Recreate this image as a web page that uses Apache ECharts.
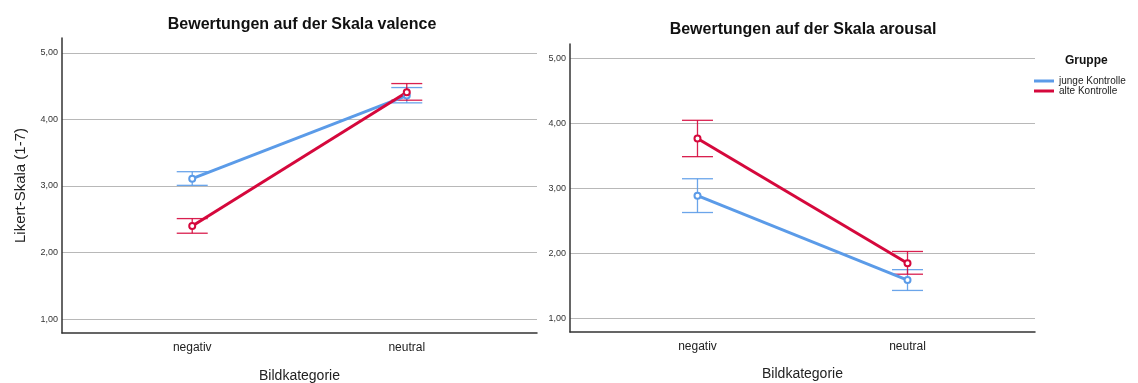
<!DOCTYPE html>
<html>
<head>
<meta charset="utf-8">
<script src="https://cdn.jsdelivr.net/npm/echarts@6/dist/echarts.min.js"></script>
<style>
  html, body { margin: 0; padding: 0; background: #fff; }
  #main { width: 1138px; height: 383px; }
</style>
</head>
<body>
<div id="main"></div>
<script>
// Werte
var categories = ['negativ', 'neutral'];
var groups = ['junge Kontrolle', 'alte Kontrolle'];
var yTicks = [1, 2, 3, 4, 5];

// Skala valence
var valenceJungeMean = [3.11, 4.36];
var valenceJungeLow = [3.01, 4.25];
var valenceJungeHigh = [3.215, 4.48];
var valenceAlteMean = [2.40, 4.41];
var valenceAlteLow = [2.29, 4.29];
var valenceAlteHigh = [2.51, 4.54];

// Skala arousal
var arousalJungeMean = [2.89, 1.59];
var arousalJungeLow = [2.63, 1.43];
var arousalJungeHigh = [3.15, 1.75];
var arousalAlteMean = [3.77, 1.85];
var arousalAlteLow = [3.49, 1.68];
var arousalAlteHigh = [4.05, 2.03];

var colors = ['#5b9be8', '#d5083c'];
var font = 'Liberation Sans, Arial, sans-serif';

var chart = echarts.init(document.getElementById('main'), null, { renderer: 'canvas' });

function meanData(arr) {
  return arr.map(function (v, i) { return [i, v]; });
}
function errData(low, high) {
  return low.map(function (v, i) { return [i, v, high[i]]; });
}

function renderErrorBar(params, api) {
  var x = api.value(0);
  var lo = api.coord([x, api.value(1)]);
  var hi = api.coord([x, api.value(2)]);
  var half = 15.5;
  var style = { stroke: api.visual('color'), lineWidth: 1.3, opacity: 0.9 };
  return {
    type: 'group',
    children: [
      { type: 'line', shape: { x1: lo[0], y1: lo[1], x2: hi[0], y2: hi[1] }, style: style },
      { type: 'line', shape: { x1: lo[0] - half, y1: lo[1], x2: lo[0] + half, y2: lo[1] }, style: style },
      { type: 'line', shape: { x1: hi[0] - half, y1: hi[1], x2: hi[0] + half, y2: hi[1] }, style: style }
    ]
  };
}

function xAxisFor(idx, nameGap) {
  return {
    type: 'value',
    gridIndex: idx,
    min: -0.607,
    max: 1.607,
    name: 'Bildkategorie',
    nameLocation: 'middle',
    nameGap: nameGap,
    nameTextStyle: { fontFamily: font, fontSize: 14, color: '#222' },
    axisLine: { show: true, onZero: false, lineStyle: { color: '#333', width: 1.5 } },
    axisTick: { show: false, customValues: [0, 1] },
    splitLine: { show: false },
    axisLabel: {
      customValues: [0, 1],
      margin: 9,
      fontFamily: font,
      fontSize: 12,
      color: '#222',
      formatter: function (v) { return categories[Math.round(v)]; }
    }
  };
}

function yAxisFor(idx, withName) {
  var ax = {
    type: 'value',
    gridIndex: idx,
    min: 0.79,
    max: 5.225,
    axisLine: { show: true, onZero: false, lineStyle: { color: '#333', width: 1.5 } },
    axisTick: { show: false, customValues: yTicks },
    splitLine: { show: true, lineStyle: { color: '#b8b8b8', width: 1.2 } },
    axisLabel: {
      customValues: yTicks,
      margin: 4,
      fontFamily: font,
      fontSize: 9,
      color: '#333',
      formatter: function (v) { return v.toFixed(2).replace('.', ','); }
    }
  };
  if (withName) {
    ax.name = 'Likert-Skala (1-7)';
    ax.nameLocation = 'middle';
    ax.nameGap = 34;
    ax.nameTextStyle = { fontFamily: font, fontSize: 15, color: '#222' };
  }
  return ax;
}

function lineSeries(name, idx, data, color) {
  return {
    name: name,
    type: 'line',
    xAxisIndex: idx,
    yAxisIndex: idx,
    data: meanData(data),
    symbol: 'emptyCircle',
    symbolSize: 6,
    color: color,
    lineStyle: { width: 3, color: color },
    itemStyle: { color: color, borderWidth: 1 },
    z: 3
  };
}

function errSeries(idx, low, high, color) {
  return {
    type: 'custom',
    xAxisIndex: idx,
    yAxisIndex: idx,
    data: errData(low, high),
    renderItem: renderErrorBar,
    itemStyle: { color: color },
    z: 2,
    silent: true
  };
}

var option = {
  animation: false,
  backgroundColor: '#fff',
  title: [
    {
      text: 'Bewertungen auf der Skala valence',
      left: 297, top: 12, textAlign: 'center',
      textStyle: { fontFamily: font, fontSize: 16, fontWeight: 'bold', color: '#111' }
    },
    {
      text: 'Bewertungen auf der Skala arousal',
      left: 798, top: 17, textAlign: 'center',
      textStyle: { fontFamily: font, fontSize: 16, fontWeight: 'bold', color: '#111' }
    },
    {
      text: 'Gruppe',
      left: 1060, top: 50,
      textStyle: { fontFamily: font, fontSize: 12, fontWeight: 'bold', color: '#111' }
    }
  ],
  legend: {
    data: groups,
    orient: 'vertical',
    left: 1034,
    top: 76,
    padding: 0,
    itemGap: 0,
    itemWidth: 20,
    itemHeight: 3,
    icon: 'rect',
    textStyle: { fontFamily: font, fontSize: 10, color: '#222', lineHeight: 10 }
  },
  grid: [
    { left: 62, right: 1138 - 537, top: 38, bottom: 383 - 333, outerBoundsMode: 'none' },
    { left: 570, right: 1138 - 1035, top: 44, bottom: 383 - 332, outerBoundsMode: 'none' }
  ],
  xAxis: [xAxisFor(0, 36), xAxisFor(1, 35)],
  yAxis: [yAxisFor(0, true), yAxisFor(1, false)],
  series: [
    errSeries(0, valenceJungeLow, valenceJungeHigh, colors[0]),
    errSeries(0, valenceAlteLow, valenceAlteHigh, colors[1]),
    lineSeries(groups[0], 0, valenceJungeMean, colors[0]),
    lineSeries(groups[1], 0, valenceAlteMean, colors[1]),
    errSeries(1, arousalJungeLow, arousalJungeHigh, colors[0]),
    errSeries(1, arousalAlteLow, arousalAlteHigh, colors[1]),
    lineSeries(groups[0], 1, arousalJungeMean, colors[0]),
    lineSeries(groups[1], 1, arousalAlteMean, colors[1])
  ]
};

chart.setOption(option);
</script>
</body>
</html>
